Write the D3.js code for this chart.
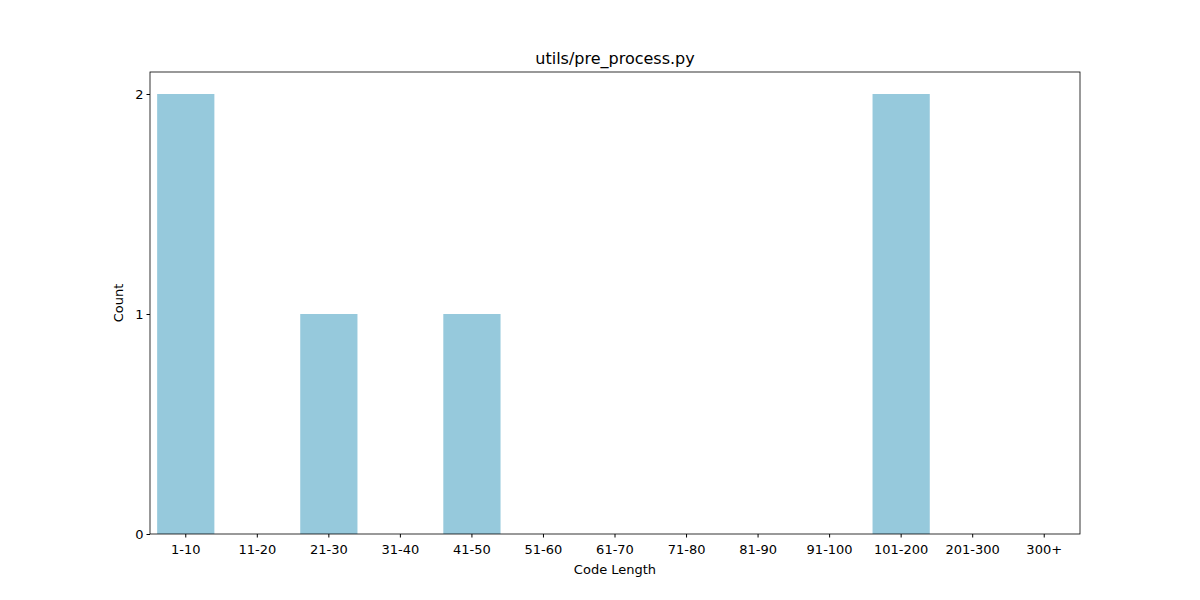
<!DOCTYPE html>
<html><head><meta charset="utf-8">
<script src="https://cdn.jsdelivr.net/npm/d3@7"></script>
<style>body{margin:0;background:#fff}text{font-family:"DejaVu Sans",sans-serif}</style>
</head><body>
<svg id="c" width="1200" height="600"></svg>
<script>
const categories = ["1-10","11-20","21-30","31-40","41-50","51-60","61-70","71-80","81-90","91-100","101-200","201-300","300+"];
const counts = [2,0,1,0,1,0,0,0,0,0,2,0,0];
const yTicks = [0,1,2];

const svg = d3.select("#c");
const L=150,R=1080,T=72,B=534;
const x = d3.scaleBand().domain(categories).range([L,R]).paddingInner(0.2).paddingOuter(0.1);
const y = d3.scaleLinear().domain([0,2.1]).range([B,T]);

svg.selectAll("rect.bar").data(categories).enter().append("rect")
  .attr("x",d=>x(d)).attr("width",x.bandwidth())
  .attr("y",(d,i)=>y(counts[i])).attr("height",(d,i)=>y(0)-y(counts[i]))
  .attr("fill","#96c9dc");

const xa = svg.append("g").attr("transform",`translate(0,${B})`)
  .call(d3.axisBottom(x).tickSize(3.5).tickSizeOuter(0));
const ya = svg.append("g").attr("transform",`translate(${L},0)`)
  .call(d3.axisLeft(y).tickValues(yTicks).tickFormat(d3.format("d")).tickSize(3.5).tickSizeOuter(0));
[xa,ya].forEach(a=>{a.selectAll("text").attr("font-size",13).attr("fill","#000");a.select(".domain").remove();a.selectAll("line").attr("stroke","#000");});
xa.selectAll("text").attr("dy","1.05em");

svg.append("rect").attr("x",L).attr("y",T).attr("width",R-L).attr("height",B-T)
  .attr("fill","none").attr("stroke","#000").attr("stroke-width",0.8);

svg.append("text").attr("x",(L+R)/2).attr("y",64).attr("text-anchor","middle").attr("font-size",16).text("utils/pre_process.py");
svg.append("text").attr("x",(L+R)/2).attr("y",574).attr("text-anchor","middle").attr("font-size",13).text("Code Length");
svg.append("text").attr("transform",`translate(123,${(T+B)/2}) rotate(-90)`).attr("text-anchor","middle").attr("font-size",13).text("Count");
</script>
</body></html>
